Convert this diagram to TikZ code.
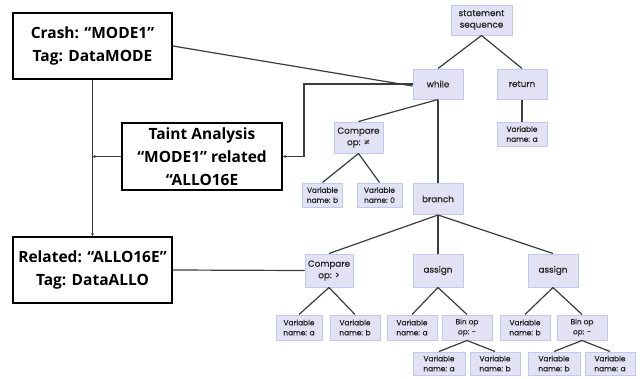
\documentclass[tikz,border=0pt]{standalone}
\usepackage{fontspec}
\newfontfamily\boxfont{Open Sans}
\newfontfamily\treefont{Poppins}[FakeBold=0.6]
\usetikzlibrary{arrows.meta}
\definecolor{nodefill}{HTML}{E2E2F4}
\definecolor{nodeedge}{HTML}{BCCBEE}
\definecolor{wire}{HTML}{3C3C3C}
\tikzset{
  bigbox/.style={draw=black, line width=1.8pt, fill=white, minimum width=159pt, inner sep=0pt, align=center, font=\boxfont\bfseries\fontsize{15.5}{23}\selectfont},
  tnode/.style={draw=nodeedge, line width=1pt, fill=nodefill, minimum width=50pt, minimum height=30pt, inner sep=1pt, align=center, text=black!85, font=\treefont\fontsize{8.8}{11.5}\selectfont},
  leaf/.style={draw=nodeedge, line width=1pt, fill=nodefill, minimum width=47pt, minimum height=24pt, inner sep=0.5pt, align=center, text=black!85, font=\treefont\fontsize{7.4}{10}\selectfont},
  wireline/.style={draw=wire, line width=1.2pt},
  arr/.style={wireline, -{Stealth[length=3pt,width=3pt]}}
}
\begin{document}
\begin{tikzpicture}[x=1pt,y=-1pt]
\useasboundingbox (0,0) rectangle (643,378);
% black boxes
\node[bigbox, minimum height=66pt] (crash) at (92.5,46) {Crash: “MODE1”\\Tag: DataMODE};
\node[bigbox, minimum width=160pt, minimum height=67pt] (taint) at (202,156.5) {Taint Analysis\\“MODE1” related\\“ALLO16E};
\node[bigbox, minimum height=66pt] (related) at (92.5,270) {Related: “ALLO16E”\\Tag: DataALLO};
% tree nodes
\node[tnode, minimum width=61pt] (seq) at (481.5,20) {statement\\sequence};
\node[tnode] (while) at (438,84) {while};
\node[tnode] (return) at (522,84) {return};
\node[leaf, minimum width=50pt] (retvar) at (522,134) {Variable\\name: a};
\node[tnode, minimum width=49pt, minimum height=31pt] (cmpne) at (358.5,137.5) {Compare\\op: ≠};
\node[leaf, minimum width=40pt] (vb1) at (322.5,195) {Variable\\name: b};
\node[leaf, minimum width=45pt] (v01) at (379.5,195) {Variable\\name: 0};
\node[tnode, minimum height=31pt] (branch) at (438,199) {branch};
\node[tnode, minimum width=48pt, minimum height=33pt] (cmpgt) at (329,270.5) {Compare\\op: >};
\node[tnode, minimum height=33pt] (assign1) at (438,270.5) {assign};
\node[tnode, minimum height=33pt] (assign2) at (553,270.5) {assign};
\node[leaf, minimum width=46pt, minimum height=25pt] (ga) at (299,327.5) {Variable\\name: a};
\node[leaf, minimum width=50pt, minimum height=25pt] (gb) at (355,327.5) {Variable\\name: b};
\node[leaf, minimum width=50pt, minimum height=25pt] (a1a) at (412,327.5) {Variable\\name: a};
\node[leaf, minimum width=50pt, minimum height=25pt] (bin1) at (467,327.5) {Bin op\\op: -};
\node[leaf, minimum width=50pt, minimum height=25pt] (a2b) at (525,327.5) {Variable\\name: b};
\node[leaf, minimum width=50pt, minimum height=25pt] (bin2) at (582,327.5) {Bin op\\op: -};
\node[leaf, minimum width=52pt, minimum height=23pt] (b1a) at (439,363.5) {Variable\\name: a};
\node[leaf, minimum width=50pt, minimum height=23pt] (b1b) at (495,363.5) {Variable\\name: b};
\node[leaf, minimum width=52pt, minimum height=23pt] (b2b) at (554,363.5) {Variable\\name: b};
\node[leaf, minimum width=50pt, minimum height=23pt] (b2a) at (610,363.5) {Variable\\name: a};
% tree edges
\draw[wireline] (seq.south) -- (while.north);
\draw[wireline] (seq.south) -- (return.north);
\draw[wireline] (return.south) -- (retvar.north);
\draw[wireline] (while.south) -- (cmpne.north);
\draw[wireline] (while.south) -- (branch.north);
\draw[wireline] (cmpne.south) -- (vb1.north);
\draw[wireline] (cmpne.south) -- (v01.north);
\draw[wireline] (branch.south) -- (cmpgt.north);
\draw[wireline] (branch.south) -- (assign1.north);
\draw[wireline] (branch.south) -- (assign2.north);
\draw[wireline] (cmpgt.south) -- (ga.north);
\draw[wireline] (cmpgt.south) -- (gb.north);
\draw[wireline] (assign1.south) -- (a1a.north);
\draw[wireline] (assign1.south) -- (bin1.north);
\draw[wireline] (assign2.south) -- (a2b.north);
\draw[wireline] (assign2.south) -- (bin2.north);
\draw[wireline] (bin1.south) -- (b1a.north);
\draw[wireline] (bin1.south) -- (b1b.north);
\draw[wireline] (bin2.south) -- (b2b.north);
\draw[wireline] (bin2.south) -- (b2a.north);
% analysis connectors
\draw[wireline] (crash.east) -- ([yshift=-2pt]while.west);
\coordinate (bend) at (304,84);
\draw[arr] (while.west) -- (bend) |- (taint.east);
\draw[arr] (crash.south) -- (related.north);
\draw[arr] (taint.west) -- (crash.south |- taint.west);
\draw[wireline] (related.east) -- (cmpgt.west);
\end{tikzpicture}
\end{document}
